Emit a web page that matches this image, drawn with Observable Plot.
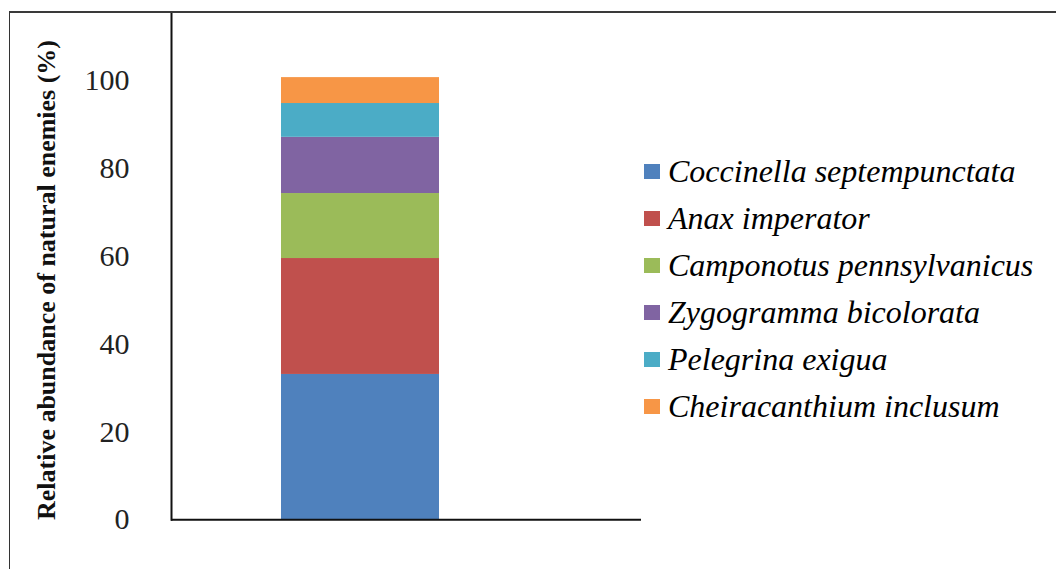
<!DOCTYPE html>
<html>
<head>
<meta charset="utf-8">
<script src="https://cdn.jsdelivr.net/npm/d3@7"></script>
<script src="https://cdn.jsdelivr.net/npm/@observablehq/plot@0.6"></script>
<style>
  html, body { margin: 0; padding: 0; background: #fff; }
  #fig { position: relative; width: 1056px; height: 569px; overflow: hidden; background: #fff; }
  #fig svg { position: absolute; left: 0; top: 0; }
  #border { position: absolute; left: 9px; top: 11px; right: -20px; bottom: -20px;
            border-top: 2px solid #3a3a3a; border-left: 1.5px solid #333; pointer-events: none; }
  #legend { position: absolute; left: 644px; top: 148px; font-family: "Liberation Serif", serif;
            font-style: italic; font-size: 32px; color: #000; }
  #legend .row { height: 47px; display: flex; align-items: center; white-space: nowrap; }
  #legend .sw { width: 16px; height: 15px; margin-right: 8px; flex: none; }
</style>
</head>
<body>
<div id="fig"><div id="border"></div></div>
<script>
// Relative abundance (%) of each natural enemy species, stacked bottom to top
const species = [
  "Coccinella septempunctata",
  "Anax imperator",
  "Camponotus pennsylvanicus",
  "Zygogramma bicolorata",
  "Pelegrina exigua",
  "Cheiracanthium inclusum"
];
const shares = [33.1, 26.4, 14.8, 12.8, 7.7, 5.9];
const colors = ["#4F81BD", "#C0504D", "#9BBB59", "#8064A2", "#4BACC6", "#F79646"];
const yTicks = [0, 20, 40, 60, 80, 100];
const yTitle = "Relative abundance of natural enemies (%)";
const site = "All";

const rows = species.map((s, i) => ({site, species: s, share: shares[i]}));

const chart = Plot.plot({
  width: 1056,
  height: 569,
  marginLeft: 171,
  marginRight: 415,
  marginTop: 13,
  marginBottom: 49.7,
  style: {fontFamily: "'Liberation Serif', serif", fontSize: "30px", background: "transparent", color: "#222"},
  x: {domain: [site], range: [280.7, 439.3], padding: 0, axis: null},
  y: {domain: [0, 115.3]},
  color: {domain: species, range: colors},
  marks: [
    Plot.barY(rows, {x: "site", y: "share", fill: "species", z: "species"}),
    Plot.axisY({ticks: yTicks, tickSize: 0, tickPadding: 42, label: null, fontSize: 30, fill: "#222"}),
    Plot.frame({anchor: "left", stroke: "#111", strokeWidth: 2}),
    Plot.ruleY([0], {stroke: "#111", strokeWidth: 2})
  ]
});

// Rotated y-axis title
d3.select(chart).append("text")
  .attr("transform", "translate(55,280) rotate(-90)")
  .attr("text-anchor", "middle")
  .attr("font-family", "'Liberation Serif', serif")
  .attr("font-size", 25)
  .attr("font-weight", "bold")
  .attr("textLength", 480)
  .attr("lengthAdjust", "spacingAndGlyphs")
  .attr("fill", "#111")
  .text(yTitle);

const fig = document.getElementById("fig");
fig.insertBefore(chart, fig.firstChild);

// Legend listing the species in stack order
const legend = d3.select(fig).append("div").attr("id", "legend");
species.forEach((s, i) => {
  const row = legend.append("div").attr("class", "row");
  row.append("span").attr("class", "sw").style("background", colors[i]);
  row.append("span").text(s);
});
</script>
</body>
</html>
